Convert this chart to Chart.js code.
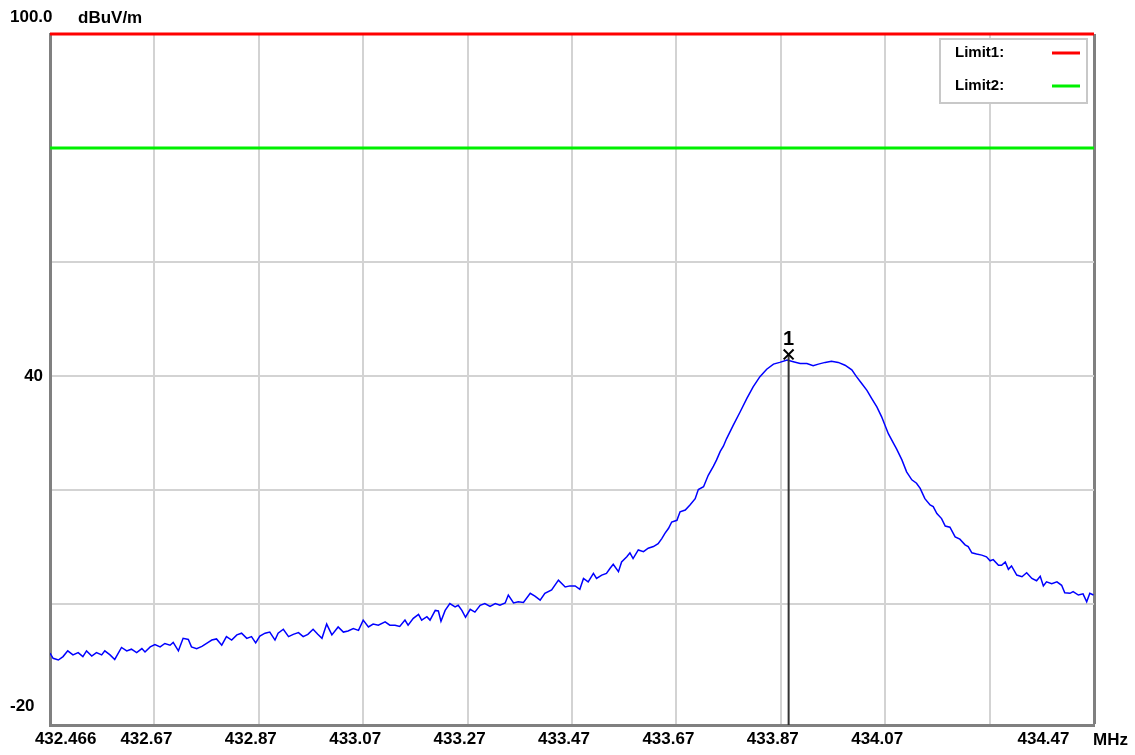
<!DOCTYPE html>
<html>
<head>
<meta charset="utf-8">
<title>Spectrum 432.466 - 434.466 MHz</title>
<script src="https://cdn.jsdelivr.net/npm/chart.js@4.4.0/dist/chart.umd.min.js"></script>
<style>
  html, body { margin: 0; padding: 0; background: #fff; }
</style>
</head>
<body>
<canvas id="graficoPrincipal" width="1135" height="755"></canvas>
<script>
// trace (MHz / dBuV/m)
const freqMHz = [
  432.466, 432.472, 432.482, 432.491, 432.500, 432.510, 432.520, 432.529, 432.536, 432.546,
  432.555, 432.565, 432.571, 432.581, 432.590, 432.603, 432.613, 432.622, 432.632, 432.642,
  432.648, 432.658, 432.667, 432.677, 432.686, 432.696, 432.702, 432.712, 432.721, 432.731,
  432.737, 432.747, 432.757, 432.769, 432.776, 432.785, 432.795, 432.804, 432.814, 432.824,
  432.833, 432.843, 432.852, 432.860, 432.868, 432.878, 432.887, 432.897, 432.903, 432.913,
  432.923, 432.932, 432.942, 432.951, 432.960, 432.970, 432.979, 432.987, 432.996, 433.006,
  433.018, 433.028, 433.037, 433.047, 433.057, 433.066, 433.076, 433.085, 433.095, 433.108,
  433.117, 433.127, 433.136, 433.146, 433.152, 433.162, 433.172, 433.178, 433.188, 433.194,
  433.204, 433.210, 433.215, 433.223, 433.232, 433.242, 433.248, 433.255, 433.262, 433.271,
  433.280, 433.290, 433.299, 433.309, 433.319, 433.328, 433.338, 433.344, 433.354, 433.363,
  433.373, 433.386, 433.395, 433.405, 433.414, 433.427, 433.440, 433.453, 433.462, 433.472,
  433.481, 433.488, 433.497, 433.507, 433.513, 433.523, 433.532, 433.539, 433.545, 433.555,
  433.561, 433.571, 433.577, 433.583, 433.593, 433.603, 433.612, 433.622, 433.631, 433.638,
  433.644, 433.651, 433.657, 433.667, 433.673, 433.683, 433.692, 433.702, 433.708, 433.718,
  433.727, 433.737, 433.743, 433.750, 433.756, 433.762, 433.775, 433.788, 433.801, 433.813,
  433.826, 433.839, 433.852, 433.864, 433.878, 433.890, 433.903, 433.916, 433.928, 433.938,
  433.951, 433.963, 433.976, 433.989, 434.002, 434.011, 434.021, 434.031, 434.040, 434.050,
  434.059, 434.072, 434.082, 434.088, 434.098, 434.107, 434.117, 434.126, 434.133, 434.142,
  434.152, 434.158, 434.165, 434.174, 434.181, 434.190, 434.200, 434.209, 434.219, 434.225,
  434.232, 434.241, 434.251, 434.260, 434.267, 434.273, 434.283, 434.289, 434.296, 434.302,
  434.308, 434.318, 434.328, 434.337, 434.347, 434.356, 434.363, 434.369, 434.375, 434.385,
  434.395, 434.404, 434.410, 434.420, 434.426, 434.436, 434.445, 434.452, 434.458, 434.465
];
const levelDb = [
  -8.6, -9.5, -9.8, -9.2, -8.2, -8.9, -8.5, -9.2, -8.2, -9.1,
  -8.5, -8.9, -8.2, -8.9, -9.7, -7.6, -8.2, -7.9, -8.5, -7.8,
  -8.4, -7.5, -7.1, -7.5, -6.9, -7.2, -6.7, -8.2, -6.0, -6.2,
  -7.5, -7.8, -7.4, -6.7, -6.3, -6.1, -7.2, -5.7, -6.3, -5.4,
  -5.1, -6.0, -5.7, -6.8, -5.6, -5.1, -4.9, -6.3, -5.1, -4.4,
  -5.7, -5.3, -5.0, -5.7, -5.3, -4.4, -5.3, -6.0, -3.5, -5.4,
  -4.0, -4.9, -4.7, -4.3, -4.6, -2.8, -4.0, -3.5, -3.7, -3.1,
  -3.7, -3.7, -3.9, -2.8, -3.7, -2.5, -1.8, -2.8, -2.2, -2.8,
  -1.1, -1.2, -3.0, -1.1, 0.1, -0.5, -0.2, -1.1, -2.3, -0.9,
  -1.4, -0.2, 0.1, -0.4, 0.1, -0.2, 0.2, 1.6, 0.2, 0.4,
  0.3, 1.9, 1.4, 0.7, 1.9, 2.5, 4.2, 3.0, 3.2, 3.2,
  2.6, 4.5, 3.9, 5.4, 4.5, 5.1, 5.4, 6.3, 7.0, 5.7,
  7.4, 8.3, 9.0, 8.0, 9.5, 9.2, 9.8, 10.1, 10.6, 11.5,
  12.4, 13.3, 14.4, 14.7, 16.2, 16.5, 17.4, 18.5, 20.1, 20.6,
  22.6, 24.2, 25.3, 26.8, 27.7, 29.0, 31.4, 33.7, 36.1, 38.1,
  39.9, 41.2, 42.1, 42.4, 42.8, 42.5, 42.2, 42.2, 41.8, 42.1,
  42.4, 42.6, 42.4, 41.9, 41.1, 39.9, 38.7, 37.5, 36.1, 34.6,
  32.9, 29.9, 28.2, 27.2, 25.3, 23.2, 21.8, 21.2, 20.3, 18.5,
  17.4, 17.1, 15.9, 15.0, 13.7, 13.5, 11.8, 11.4, 10.4, 10.1,
  9.0, 8.8, 8.6, 8.3, 7.6, 7.8, 6.8, 6.8, 7.4, 6.1,
  6.7, 5.1, 4.8, 5.5, 4.5, 4.1, 4.9, 3.2, 3.9, 3.6,
  3.9, 3.3, 2.0, 1.9, 2.2, 1.6, 1.8, 0.4, 1.9, 1.6
];

const limitFreq = [432.466, 434.466];
const limit1 = [100, 100];
const limit2 = [80, 80];

const markerFreq = [433.881];
const markerLevel = [43.8];
const markerNames = ['1'];

const xMin = 432.466;
const xMax = 434.466;
const xTicks = [432.466, 432.666, 432.866, 433.066, 433.266, 433.466, 433.666, 433.866, 434.066, 434.266, 434.466];
const xLabels = ['432.466', '432.67', '432.87', '433.07', '433.27', '433.47', '433.67', '433.87', '434.07', '', '434.47'];

const yMin = -21.2;
const yMax = 100;
const yTicks = [100, 90, 80, 70, 60, 50, 40, 30, 20, 10, 0, -10, -20];
const yLabels = ['100.0', '', '', '', '', '', '40', '', '', '', '', '', '-20'];

const unitY = 'dBuV/m';
const unitX = 'MHz';

const fonte = "'Liberation Sans', Arial, sans-serif";
const corGrade = '#d3d3d3';
const corMoldura = '#808080';

function pares(xs, ys) {
  return xs.map((x, i) => ({ x: x, y: ys[i] }));
}

// texts that the analyser puts round the plot, plus its little legend box
const textoExtra = {
  id: 'textoExtra',
  afterDraw(chart) {
    const { ctx, chartArea, scales } = chart;
    ctx.save();
    ctx.fillStyle = '#000';
    ctx.textBaseline = 'middle';
    ctx.font = 'bold 17px ' + fonte;
    ctx.textAlign = 'left';
    ctx.fillText(unitY, chartArea.left + 28, chartArea.top - 16);
    ctx.fillText(unitX, chartArea.right - 1, chartArea.bottom + 15);

    ctx.font = 'bold 20px ' + fonte;
    ctx.textAlign = 'center';
    markerFreq.forEach((f, i) => {
      const px = scales.x.getPixelForValue(f);
      const py = scales.y.getPixelForValue(markerLevel[i]);
      ctx.fillText(markerNames[i], px, py - 15);
    });

    // legend
    const limites = chart.data.datasets.filter(d => d.legenda);
    const bx = chartArea.right - 7 - 147;
    const by = chartArea.top + 5;
    ctx.fillStyle = '#fff';
    ctx.fillRect(bx, by, 147, 64);
    ctx.strokeStyle = '#c8c8c8';
    ctx.lineWidth = 2;
    ctx.strokeRect(bx, by, 147, 64);
    ctx.font = 'bold 15px ' + fonte;
    ctx.textAlign = 'left';
    limites.forEach((d, i) => {
      const ly = by + 14 + i * 33;
      ctx.fillStyle = '#000';
      ctx.fillText(d.label, bx + 15, ly);
      ctx.strokeStyle = d.borderColor;
      ctx.lineWidth = 3;
      ctx.beginPath();
      ctx.moveTo(bx + 112, ly);
      ctx.lineTo(bx + 140, ly);
      ctx.stroke();
    });
    ctx.restore();
  }
};

const ctx = document.getElementById('graficoPrincipal');

new Chart(ctx, {
  type: 'line',
  data: {
    datasets: [
      {
        label: 'Marker',
        data: pares(markerFreq, markerLevel),
        showLine: false,
        pointStyle: 'crossRot',
        pointRadius: 7,
        pointBorderWidth: 2,
        borderColor: '#000',
        backgroundColor: '#000',
        clip: 4
      },
      {
        label: 'Marker line',
        data: [{ x: markerFreq[0], y: markerLevel[0] }, { x: markerFreq[0], y: yMin }],
        borderColor: '#333',
        borderWidth: 2,
        pointRadius: 0
      },
      {
        label: 'Trace',
        data: pares(freqMHz, levelDb),
        borderColor: '#0000ff',
        borderWidth: 1.5,
        pointRadius: 0,
        tension: 0
      },
      {
        label: 'Limit1:',
        legenda: true,
        data: pares(limitFreq, limit1),
        borderColor: '#ff0000',
        borderWidth: 3,
        pointRadius: 0,
        clip: 4
      },
      {
        label: 'Limit2:',
        legenda: true,
        data: pares(limitFreq, limit2),
        borderColor: '#00f000',
        borderWidth: 3,
        pointRadius: 0,
        clip: 4
      }
    ]
  },
  options: {
    animation: false,
    responsive: false,
    layout: { padding: { top: 34, left: 10, right: 41, bottom: 0 } },
    plugins: {
      legend: { display: false },
      tooltip: { enabled: false }
    },
    scales: {
      x: {
        type: 'linear',
        min: xMin,
        max: xMax,
        afterBuildTicks: s => { s.ticks = xTicks.map(v => ({ value: v })); },
        afterFit: s => { s.height = 30; s.paddingLeft = 0; s.paddingRight = 0; },
        grid: {
          drawTicks: false,
          color: c => c.index === xTicks.length - 1 ? corMoldura : corGrade,
          lineWidth: c => c.index === xTicks.length - 1 ? 3 : 2
        },
        border: { color: corMoldura, width: 3 },
        ticks: {
          autoSkip: false,
          maxRotation: 0,
          minRotation: 0,
          padding: 4,
          labelOffset: -8,
          color: '#000',
          font: { family: fonte, size: 17, weight: 'bold' },
          callback: (v, i) => {
            let t = xLabels[i];
            if (i === 0) t = ' '.repeat(10) + t;
            if (i === xLabels.length - 1) t = t + ' '.repeat(18);
            return t;
          }
        }
      },
      y: {
        min: yMin,
        max: yMax,
        afterBuildTicks: s => { s.ticks = yTicks.map(v => ({ value: v })); },
        afterFit: s => { s.width = 40; s.paddingTop = 0; s.paddingBottom = 0; },
        grid: {
          drawTicks: false,
          color: c => (c.tick && c.tick.value === -20) ? 'rgba(0,0,0,0)' : corGrade,
          lineWidth: 2
        },
        border: { color: corMoldura, width: 3 },
        ticks: {
          // mirror + negative padding puts the labels at the left edge without clipping them
          mirror: true,
          padding: -40,
          color: '#000',
          font: c => ({
            family: fonte,
            size: 17,
            weight: 'bold',
            lineHeight: (c.tick && c.tick.value === 100) ? '34px' : '24px'
          }),
          callback: (v, i) => {
            const t = yLabels[i];
            if (i === 0 || i === yLabels.length - 1) return [t, ''];
            if (t) return '   ' + t;
            return t;
          }
        }
      }
    }
  },
  plugins: [textoExtra]
});
</script>
</body>
</html>
